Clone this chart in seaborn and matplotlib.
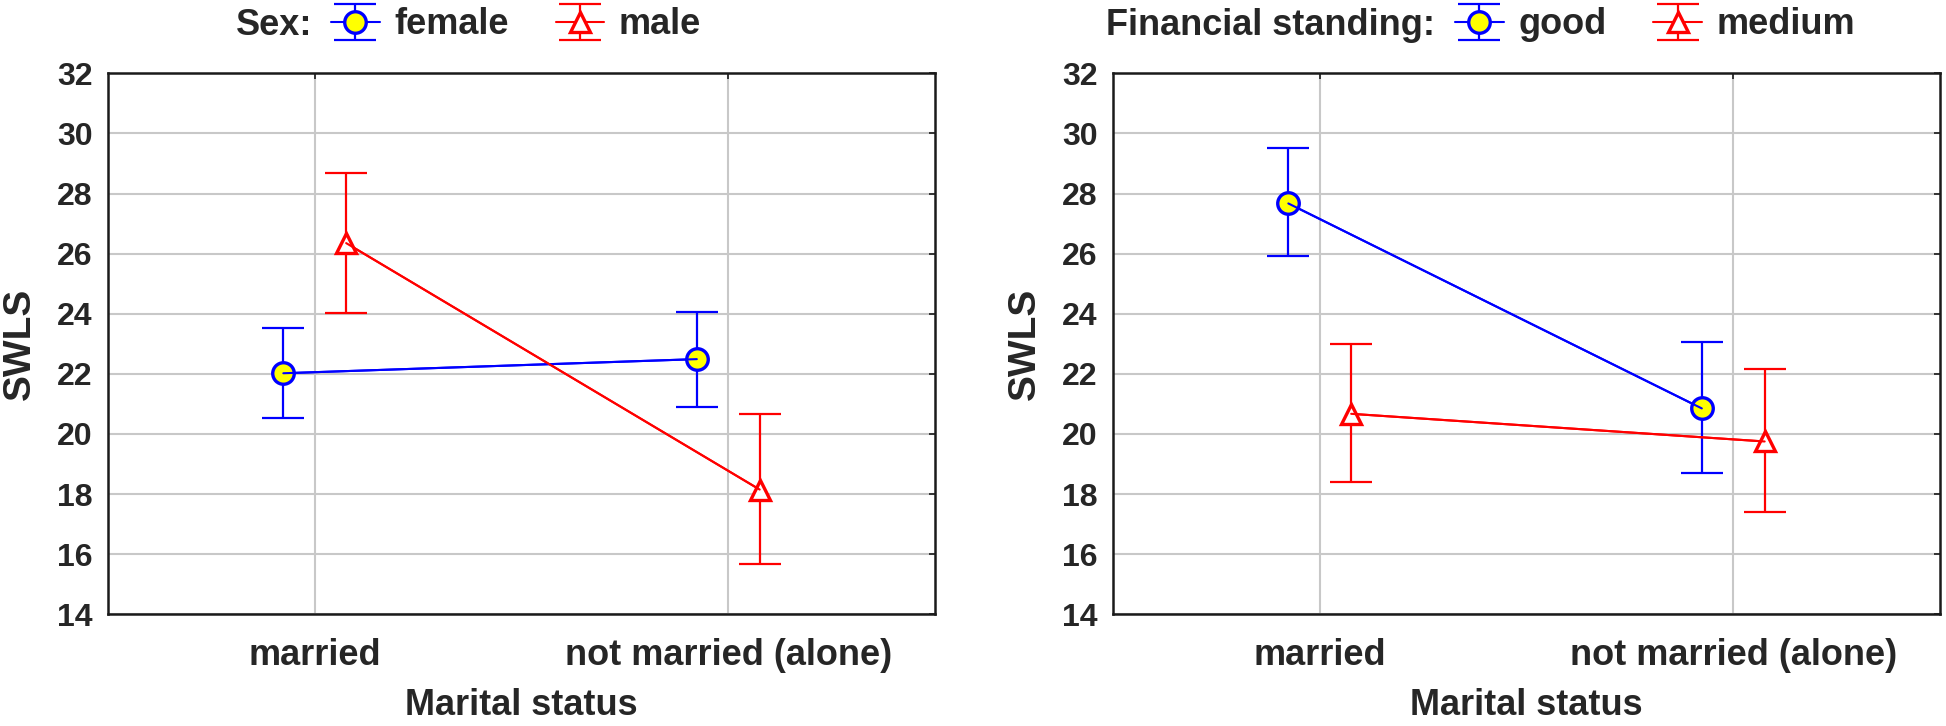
import numpy as np
import pandas as pd
import matplotlib
matplotlib.use('Agg')
import matplotlib.pyplot as plt
import seaborn as sns
from matplotlib.container import ErrorbarContainer

# values (mean and interval ends)
status = ['married', 'not married (alone)']

sex_levels = ['female', 'male']
female_mean = [22.02, 22.49]
female_lo = [20.52, 20.91]
female_hi = [23.51, 24.07]
male_mean = [26.35, 18.15]
male_lo = [24.01, 15.67]
male_hi = [28.69, 20.65]

fin_levels = ['good', 'medium']
good_mean = [27.67, 20.85]
good_lo = [25.92, 18.71]
good_hi = [29.50, 23.05]
medium_mean = [20.67, 19.75]
medium_lo = [18.39, 17.39]
medium_hi = [23.00, 22.17]

yticks = list(range(14, 33, 2))

sns.set_style('white')
plt.rcParams['font.family'] = ['Liberation Sans', 'DejaVu Sans']
plt.rcParams['font.weight'] = 'bold'
plt.rcParams['axes.labelweight'] = 'bold'

colors = ['#0000ff', '#ff0000']
faces = ['#ffff00', '#ffffff']
markers = ['o', '^']
msizes = [15.5, 15]


def panel(ax, levels, means, los, his, title, title_x, leg_x):
    df = pd.DataFrame({
        'status': status * 2,
        'group': np.repeat(levels, len(status)),
        'SWLS': np.concatenate(means),
    })
    sns.pointplot(data=df, x='status', y='SWLS', hue='group', order=status,
                  hue_order=levels, dodge=0.152, markers=markers,
                  linestyles=['-', '-'], palette=colors, errorbar=None,
                  legend=False, linewidth=1.5, ax=ax)
    handles = []
    for i, line in enumerate(ax.lines[:len(levels)]):
        line.set_markerfacecolor(faces[i])
        line.set_markeredgecolor(colors[i])
        line.set_markersize(msizes[i])
        line.set_markeredgewidth(2.4)
        line.set_zorder(4)
        xs = line.get_xdata()
        m = np.array(means[i])
        eb = ax.errorbar(xs, m, yerr=[m - np.array(los[i]), np.array(his[i]) - m],
                         fmt='none', ecolor=colors[i], elinewidth=1.6,
                         capsize=15, capthick=1.6, zorder=3)
        # connecting line drawn over the markers, like the original
        ax.plot(xs, m, color=colors[i], lw=1.5, zorder=5)
        handles.append(ErrorbarContainer((line, eb.lines[1], eb.lines[2]),
                                         has_xerr=False, has_yerr=True,
                                         label=levels[i]))

    ax.set_xlim(-0.5, 1.5)
    ax.set_ylim(14, 32)
    ax.set_yticks(yticks)
    ax.grid(True, color='#c8c8c8', lw=1.5)
    ax.set_axisbelow(True)
    for s in ax.spines.values():
        s.set_linewidth(1.8)
        s.set_color('#1a1a1a')
    ax.tick_params(direction='in', length=4, width=1.2, top=True, right=True,
                   color='#1a1a1a')
    ax.tick_params(axis='x', labelsize=26, pad=17)
    ax.tick_params(axis='y', labelsize=23, pad=11)
    ax.set_xlabel('Marital status', fontsize=26, labelpad=11)
    ax.set_ylabel('SWLS', fontsize=28, labelpad=14)

    fig.text(title_x, 1 - 35 / 726, title, ha='right', va='baseline',
             fontsize=26, fontweight='bold')
    fig.legend(handles=handles, loc='center left',
               bbox_to_anchor=(leg_x, 1 - 25 / 726), ncol=2, frameon=False,
               fontsize=26, handlelength=1.35, handletextpad=0.4,
               columnspacing=1.3, borderpad=0, borderaxespad=0)


fig = plt.figure(figsize=(19.46, 7.26), dpi=100)
ax1 = fig.add_axes([108 / 1946, 1 - 614.3 / 726, 827 / 1946, 541 / 726])
ax2 = fig.add_axes([1113 / 1946, 1 - 614.3 / 726, 827 / 1946, 541 / 726])

panel(ax1, sex_levels, [female_mean, male_mean], [female_lo, male_lo],
      [female_hi, male_hi], 'Sex:', 312 / 1946, 331 / 1946)
panel(ax2, fin_levels, [good_mean, medium_mean], [good_lo, medium_lo],
      [good_hi, medium_hi], 'Financial standing:', 1435 / 1946, 1455 / 1946)

fig.savefig('out.png', dpi=100)
